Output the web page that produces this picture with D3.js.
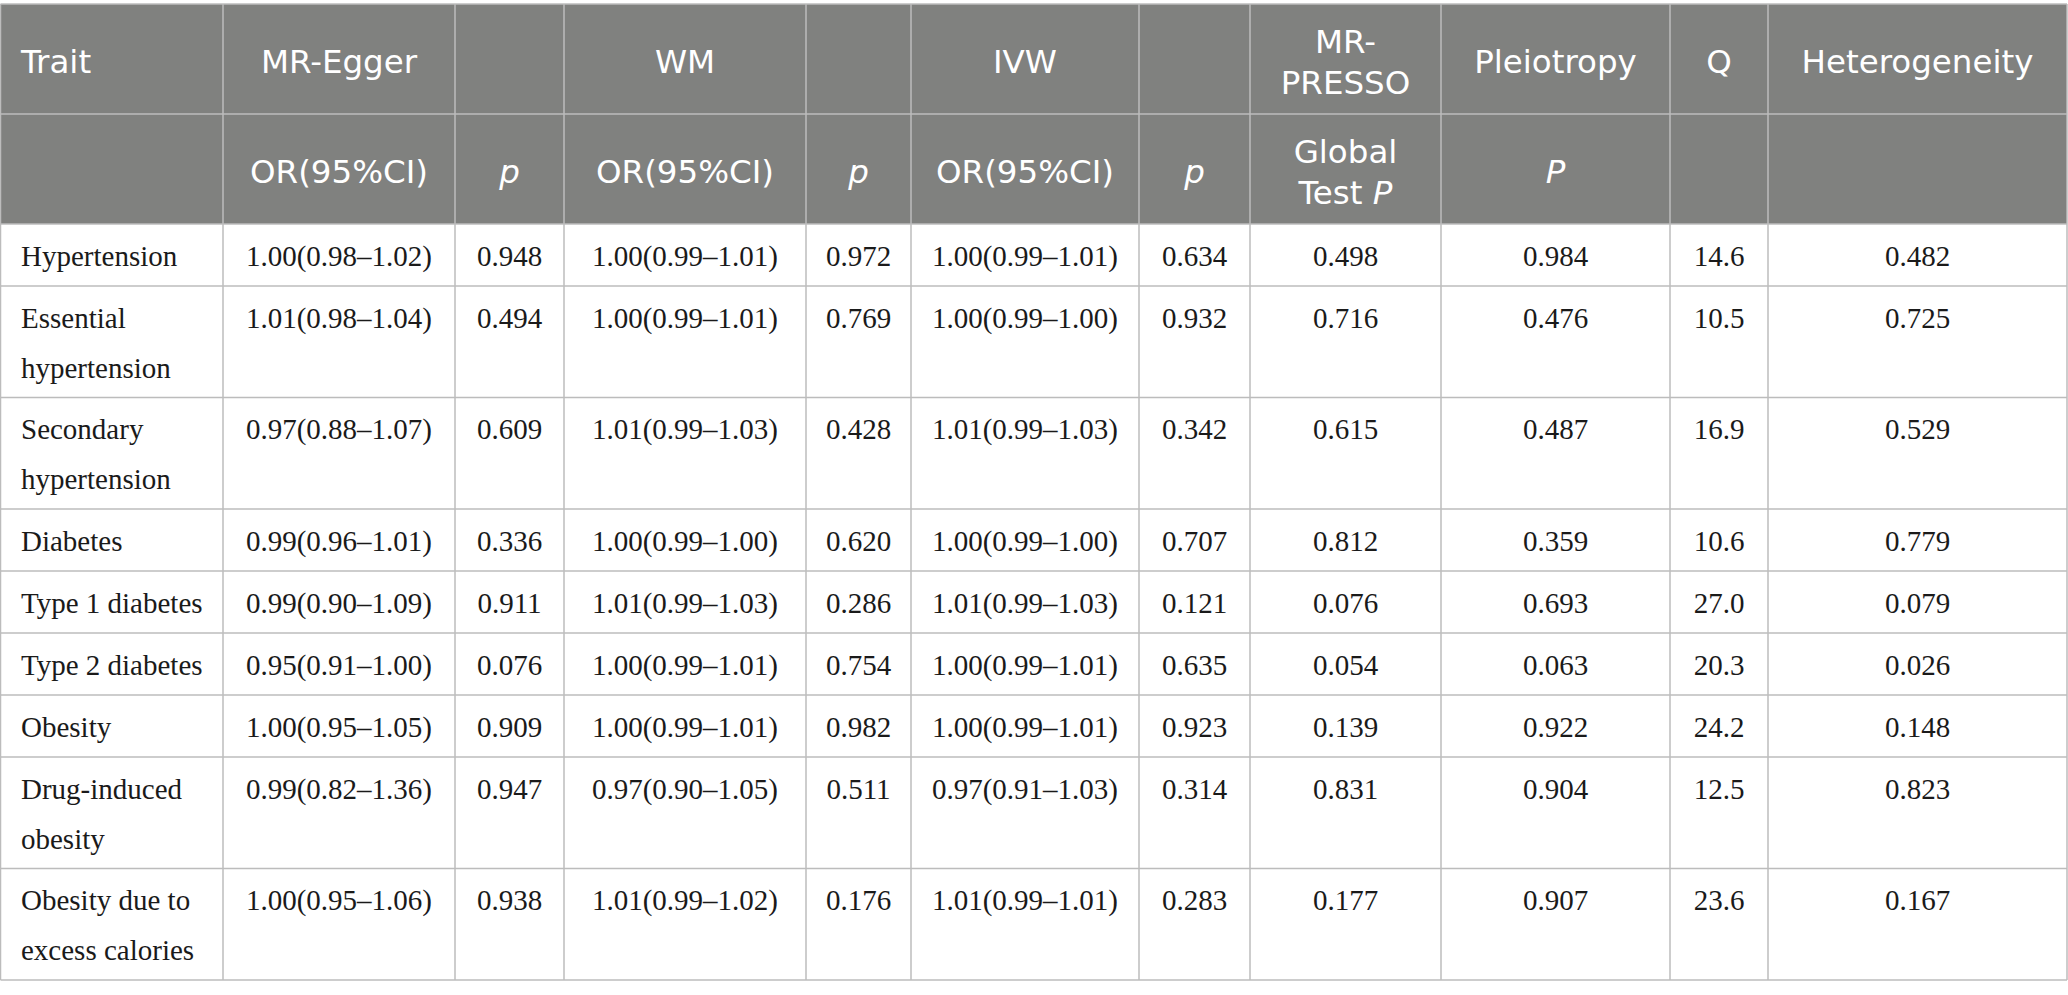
<!DOCTYPE html>
<html>
<head>
<meta charset="utf-8">
<script src="https://cdn.jsdelivr.net/npm/d3@7/dist/d3.min.js"></script>
<style>
    body { margin: 0; background: #fff; }
    svg { display: block; }
</style>
</head>
<body>
<svg id="table-svg"></svg>
<script>
// ---- data ----
const traits = [
    ["Hypertension"],
    ["Essential", "hypertension"],
    ["Secondary", "hypertension"],
    ["Diabetes"],
    ["Type 1 diabetes"],
    ["Type 2 diabetes"],
    ["Obesity"],
    ["Drug-induced", "obesity"],
    ["Obesity due to", "excess calories"]
];
// [OR, lower, upper]
const mrEggerCI = [[1.00, 0.98, 1.02], [1.01, 0.98, 1.04], [0.97, 0.88, 1.07], [0.99, 0.96, 1.01], [0.99, 0.90, 1.09],
    [0.95, 0.91, 1.00], [1.00, 0.95, 1.05], [0.99, 0.82, 1.36], [1.00, 0.95, 1.06]];
const mrEggerP = [0.948, 0.494, 0.609, 0.336, 0.911, 0.076, 0.909, 0.947, 0.938];
const wmCI = [[1.00, 0.99, 1.01], [1.00, 0.99, 1.01], [1.01, 0.99, 1.03], [1.00, 0.99, 1.00], [1.01, 0.99, 1.03],
    [1.00, 0.99, 1.01], [1.00, 0.99, 1.01], [0.97, 0.90, 1.05], [1.01, 0.99, 1.02]];
const wmP = [0.972, 0.769, 0.428, 0.620, 0.286, 0.754, 0.982, 0.511, 0.176];
const ivwCI = [[1.00, 0.99, 1.01], [1.00, 0.99, 1.00], [1.01, 0.99, 1.03], [1.00, 0.99, 1.00], [1.01, 0.99, 1.03],
    [1.00, 0.99, 1.01], [1.00, 0.99, 1.01], [0.97, 0.91, 1.03], [1.01, 0.99, 1.01]];
const ivwP = [0.634, 0.932, 0.342, 0.707, 0.121, 0.635, 0.923, 0.314, 0.283];
const pressoP = [0.498, 0.716, 0.615, 0.812, 0.076, 0.054, 0.139, 0.831, 0.177];
const pleiotropyP = [0.984, 0.476, 0.487, 0.359, 0.693, 0.063, 0.922, 0.904, 0.907];
const qValues = [14.6, 10.5, 16.9, 10.6, 27.0, 20.3, 24.2, 12.5, 23.6];
const heterogeneityP = [0.482, 0.725, 0.529, 0.779, 0.079, 0.026, 0.148, 0.823, 0.167];

// header labels, "*" marks the start of an italic part
const headerRow1 = [["Trait"], ["MR-Egger"], [], ["WM"], [], ["IVW"], [], ["MR-", "PRESSO"], ["Pleiotropy"], ["Q"], ["Heterogeneity"]];
const headerRow2 = [[], ["OR(95%CI)"], ["*p"], ["OR(95%CI)"], ["*p"], ["OR(95%CI)"], ["*p"], ["Global", "Test *P"], ["*P"], [], []];

// ---- layout ----
const width = 2068, height = 995;
const colEdges = [0.5, 223, 455, 564, 806, 911, 1139, 1250, 1441, 1670, 1768, 2067];
const tableTop = 4, headerRowH = 110;
const singleRowH = 62, extraLineH = 49.5;
const bodyLineH = 50;

const f2 = d3.format(".2f"), f3 = d3.format(".3f"), f1 = d3.format(".1f");
const ci = d => f2(d[0]) + "(" + f2(d[1]) + "\u2013" + f2(d[2]) + ")";

const svg = d3.select("#table-svg").attr("width", width).attr("height", height);

svg.append("rect").attr("width", width).attr("height", height).attr("fill", "#fff");

// column scale: index -> left edge
const xLeft = d3.scaleOrdinal().domain(d3.range(colEdges.length)).range(colEdges);
const xMid = i => (xLeft(i) + xLeft(i + 1)) / 2;

// row positions from line counts
const rowHeights = traits.map(t => singleRowH + extraLineH * (t.length - 1));
const bodyTop = tableTop + 2 * headerRowH;
const rowTops = [bodyTop];
rowHeights.forEach((h, i) => rowTops.push(rowTops[i] + h));
const y = d3.scaleOrdinal().domain(d3.range(rowTops.length)).range(rowTops);

// header background
svg.append("rect")
    .attr("x", colEdges[0])
    .attr("y", tableTop)
    .attr("width", colEdges[colEdges.length - 1] - colEdges[0])
    .attr("height", 2 * headerRowH)
    .attr("fill", "#80817f");

// header text
function drawHeader(row, top) {
    const cy = top + headerRowH / 2;
    row.forEach((lines, c) => {
        lines.forEach((line, li) => {
            const base = cy + 14 + (li - (lines.length - 1) / 2) * 41;
            const t = svg.append("text")
                .attr("class", "header-text")
                .attr("x", c === 0 ? 21 : xMid(c))
                .attr("y", base)
                .attr("text-anchor", c === 0 ? "start" : "middle")
                .attr("font-family", "'DejaVu Sans', sans-serif")
                .attr("font-size", "32.5px")
                .attr("fill", "#fff");
            line.split("*").forEach((part, pi) => {
                if (part === "") return;
                t.append("tspan")
                    .attr("font-style", pi % 2 ? "italic" : "normal")
                    .text(part);
            });
        });
    });
}
drawHeader(headerRow1, tableTop);
drawHeader(headerRow2, tableTop + headerRowH);

// body text
const bodyRows = traits.map((t, i) => [
    t, [ci(mrEggerCI[i])], [f3(mrEggerP[i])], [ci(wmCI[i])], [f3(wmP[i])], [ci(ivwCI[i])], [f3(ivwP[i])],
    [f3(pressoP[i])], [f3(pleiotropyP[i])], [f1(qValues[i])], [f3(heterogeneityP[i])]
]);

bodyRows.forEach((cells, r) => {
    cells.forEach((lines, c) => {
        lines.forEach((line, li) => {
            svg.append("text")
                .attr("x", c === 0 ? 21 : xMid(c))
                .attr("y", y(r) + 41.5 + li * bodyLineH)
                .attr("text-anchor", c === 0 ? "start" : "middle")
                .attr("font-family", "'Liberation Serif', serif")
                .attr("font-size", "29px")
                .attr("fill", "#1a1a1a")
                .text(line);
        });
    });
});

// grid lines
const gridColor = "#bcbcbc";
const hLines = [tableTop, tableTop + headerRowH].concat(rowTops);
svg.append("g").selectAll("line")
    .data(hLines)
    .join("line")
    .attr("x1", colEdges[0])
    .attr("x2", colEdges[colEdges.length - 1])
    .attr("y1", d => d)
    .attr("y2", d => d)
    .attr("stroke", gridColor)
    .attr("stroke-width", 1.5);

svg.append("g").selectAll("line")
    .data(d3.range(colEdges.length))
    .join("line")
    .attr("x1", d => xLeft(d))
    .attr("x2", d => xLeft(d))
    .attr("y1", tableTop)
    .attr("y2", rowTops[rowTops.length - 1])
    .attr("stroke", gridColor)
    .attr("stroke-width", 1.5);
</script>
</body>
</html>
